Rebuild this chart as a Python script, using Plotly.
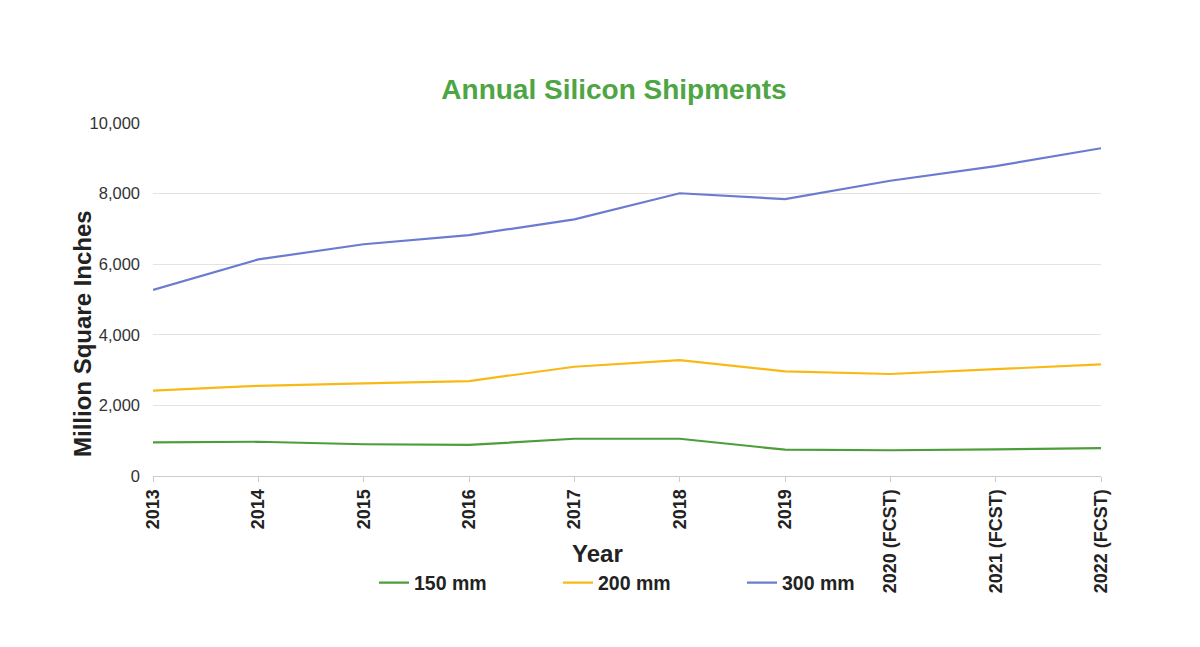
import plotly.graph_objects as go

years = ["2013", "2014", "2015", "2016", "2017", "2018", "2019",
         "2020 (FCST)", "2021 (FCST)", "2022 (FCST)"]
mm150 = [955, 970, 900, 880, 1055, 1055, 745, 730, 755, 790]
mm200 = [2420, 2555, 2625, 2690, 3095, 3285, 2965, 2890, 3025, 3165]
mm300 = [5270, 6135, 6565, 6825, 7270, 8010, 7845, 8365, 8780, 9285]

series = [("150 mm", mm150, "#4c9e3a"),
          ("200 mm", mm200, "#f9b915"),
          ("300 mm", mm300, "#6b7bd0")]

FONT = "Liberation Sans, Arial, sans-serif"

fig = go.Figure()
for name, vals, col in series:
    fig.add_trace(go.Scatter(x=years, y=vals, mode="lines", name=f"<b>{name}</b>",
                             line=dict(color=col, width=2.2)))

# page body adds an 8px offset; compensate in margins
fig.update_layout(
    width=1200, height=647,
    paper_bgcolor="white", plot_bgcolor="white",
    margin=dict(l=145, r=107, t=115, b=179),
    font=dict(family=FONT, color="#333333"),
    title=dict(text="<b>Annual Silicon Shipments</b>", x=(614 - 8) / 1200, xanchor="center",
               y=1 - (89 - 8) / 647, yanchor="middle",
               font=dict(size=28, color="#4ea543", family=FONT)),
    showlegend=True,
    legend=dict(orientation="h", x=(374 - 153) / 948, xanchor="left", y=-(583 - 476) / 353,
                yanchor="middle",
                font=dict(size=19.5, color="#222222", family=FONT),
                entrywidth=139, entrywidthmode="pixels", itemwidth=30,
                bgcolor="rgba(0,0,0,0)"),
)

fig.update_xaxes(
    type="category", range=[0, 9], tickangle=-90,
    tickfont=dict(size=18, color="#222222", family=FONT),
    showgrid=False, showline=True, linecolor="#cccccc", linewidth=1,
    ticks="outside", ticklen=5, tickcolor="#cccccc",
    tickprefix="<b>", ticksuffix="</b>",
)
fig.update_yaxes(
    range=[0, 10000], tickvals=[0, 2000, 4000, 6000, 8000, 10000],
    tickformat=",", tickfont=dict(size=16.5, color="#333333", family=FONT),
    showgrid=True, gridcolor="#e3e3e3", gridwidth=1, zeroline=False,
    ticks="", ticklabelstandoff=12,
)

fig.add_annotation(text="<b>Million Square Inches</b>", xref="paper", yref="paper",
                   x=(82 - 153) / 948, y=(476 - 334) / 353, xanchor="center", yanchor="middle",
                   textangle=-90, showarrow=False,
                   font=dict(size=24, color="#222222", family=FONT))
fig.add_annotation(text="<b>Year</b>", xref="paper", yref="paper",
                   x=(597 - 153) / 948, y=-(553 - 476) / 353, xanchor="center", yanchor="middle",
                   showarrow=False,
                   font=dict(size=24, color="#222222", family=FONT))

fig.write_html("out.html")
